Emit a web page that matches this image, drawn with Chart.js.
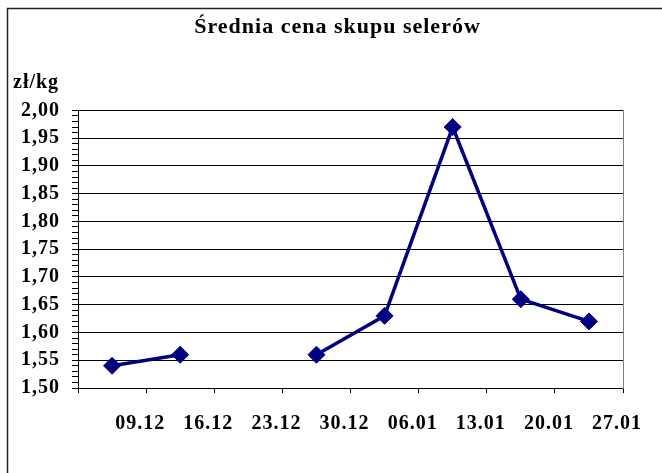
<!DOCTYPE html>
<html><head><meta charset="utf-8">
<script src="https://cdn.jsdelivr.net/npm/chart.js@4/dist/chart.umd.min.js"></script>
<style>html,body{margin:0;padding:0;background:#fff}#wrap{width:662px;height:473px}</style>
</head><body><div id="wrap"><canvas id="c" width="662" height="473"></canvas></div>
<script>
const titleText = 'Średnia cena skupu selerów';
const unitLabel = 'zł/kg';
const pointDates = ['05.12','12.12','19.12','26.12','02.01','09.01','16.01','23.01'];
const pointDays = [3, 10, 17, 24, 31, 38, 45, 52]; // days after 02.12
const prices = [1.54, 1.56, null, 1.56, 1.63, 1.97, 1.66, 1.62];
const xTickLabels = ['', '09.12', '16.12', '23.12', '30.12', '06.01', '13.01', '20.01', '27.01'];
const yMin = 1.50, yMax = 2.00, yMajorStep = 0.05, yMinorStep = 0.01;
const xMin = 0, xMax = 56, xStep = 7;

const FONT = 'Liberation Serif, Times New Roman, serif';
const isMajor = v => Math.abs(v / yMajorStep - Math.round(v / yMajorStep)) < 1e-6;

const framePlugin = {
  id: 'frame',
  beforeLayout(chart) { chart.ctx.letterSpacing = '1px'; },
  beforeDraw(chart) {
    const ctx = chart.ctx;
    ctx.letterSpacing = '1px';
    ctx.save();
    ctx.fillStyle = '#fff';
    ctx.fillRect(0, 0, chart.width, chart.height);
    ctx.strokeStyle = '#222';
    ctx.lineWidth = 1.5;
    ctx.strokeRect(7.5, 8.5, chart.width + 20, chart.height + 20);
    ctx.restore();
  }
};

new Chart(document.getElementById('c'), {
  type: 'line',
  data: {
    datasets: [{
      label: 'cena',
      data: pointDays.map((d, i) => ({ x: d + 0.5, y: prices[i] })),
      borderColor: '#000080',
      backgroundColor: '#000080',
      borderWidth: 3.5,
      pointStyle: 'rectRot',
      pointRadius: 8.5,
      pointBorderWidth: 1,
      spanGaps: false,
      tension: 0
    }]
  },
  options: {
    responsive: false,
    animation: false,
    devicePixelRatio: 1,
    layout: { padding: { left: 13, right: 0, top: 0, bottom: 18 } },
    plugins: {
      legend: { display: false },
      tooltip: { enabled: false },
      title: {
        display: true, text: titleText, color: '#000',
        font: { family: FONT, size: 22, weight: 'bold' },
        padding: { top: 14, bottom: 0 }
      },
      subtitle: {
        display: true, text: unitLabel, color: '#000', align: 'start',
        font: { family: FONT, size: 20, weight: 'bold' },
        padding: { top: 30, bottom: 16 }
      }
    },
    scales: {
      x: {
        type: 'linear', min: xMin, max: xMax, offset: false,
        afterFit: s => { s.paddingLeft = 0; s.paddingRight = 0; },
        ticks: {
          stepSize: xStep, autoSkip: false, maxRotation: 0, padding: 19, labelOffset: -6,
          color: '#000', font: { family: FONT, size: 20, weight: 'bold' },
          callback: v => xTickLabels[Math.round((v - xMin) / xStep)] ?? ''
        },
        grid: { drawOnChartArea: false, tickLength: 5, color: '#000' },
        border: { color: '#000', width: 1 }
      },
      y: {
        min: yMin, max: yMax,
        afterFit: s => { s.width = 65; s.paddingTop = 0; s.paddingBottom = 0; },
        ticks: {
          stepSize: yMinorStep, autoSkip: false, padding: 12, color: '#000',
          font: { family: FONT, size: 20, weight: 'bold' },
          callback: v => isMajor(v) ? v.toFixed(2).replace('.', ',') : ''
        },
        grid: {
          tickLength: 6,
          color: c => (c.tick && isMajor(c.tick.value)) ? '#000' : 'rgba(0,0,0,0)',
          tickColor: '#000'
        },
        border: { color: '#000', width: 1 }
      },
      y2: {
        position: 'right', min: yMin, max: yMax, display: true,
        afterFit: s => { s.width = 39; s.paddingTop = 0; s.paddingBottom = 0; },
        ticks: { display: false },
        grid: { drawOnChartArea: false, drawTicks: false },
        border: { color: '#808080', width: 1 }
      }
    }
  },
  plugins: [framePlugin]
});
</script></body></html>
